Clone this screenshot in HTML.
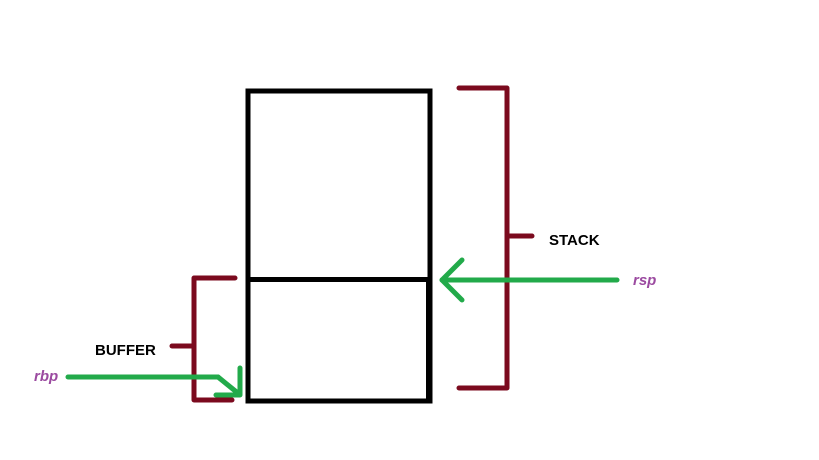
<!DOCTYPE html>
<html><head><style>body{margin:0;background:#fff}svg{display:block}</style></head><body>
<svg width="819" height="460" xmlns="http://www.w3.org/2000/svg" font-family="Liberation Sans, sans-serif">
<rect width="819" height="460" fill="#fff"/>
<g stroke="#000" fill="none" stroke-width="5">
<rect x="248" y="91" width="182" height="310"/>
<line x1="248" y1="279.5" x2="430" y2="279.5"/>
<line x1="428" y1="280" x2="428" y2="402" stroke-width="4"/>
</g>
<g stroke="#7b0a1e" fill="none" stroke-width="5" stroke-linecap="round" stroke-linejoin="round">
<polyline points="459,88 507,88 507,388 459,388"/>
<line x1="507" y1="236" x2="532" y2="236"/>
<polyline points="235,278 194,278 194,400 232,400"/>
<line x1="172" y1="346" x2="194" y2="346"/>
</g>
<g stroke="#22aa4a" fill="none" stroke-width="5" stroke-linecap="round" stroke-linejoin="round">
<line x1="617" y1="280" x2="442" y2="280"/>
<polyline points="462,260 442,280 462,300"/>
<line x1="68" y1="377" x2="218" y2="377"/>
<line x1="218" y1="377" x2="239" y2="394"/>
<polyline points="240,368 240,395 216,395"/>
</g>
<g font-weight="bold" font-size="15">
<text x="549" y="245" fill="#000">STACK</text>
<text x="95" y="355" fill="#000">BUFFER</text>
<text x="633" y="285" fill="#9b4aa0" font-style="italic">rsp</text>
<text x="34" y="381" fill="#9b4aa0" font-style="italic">rbp</text>
</g>
</svg>
</body></html>
